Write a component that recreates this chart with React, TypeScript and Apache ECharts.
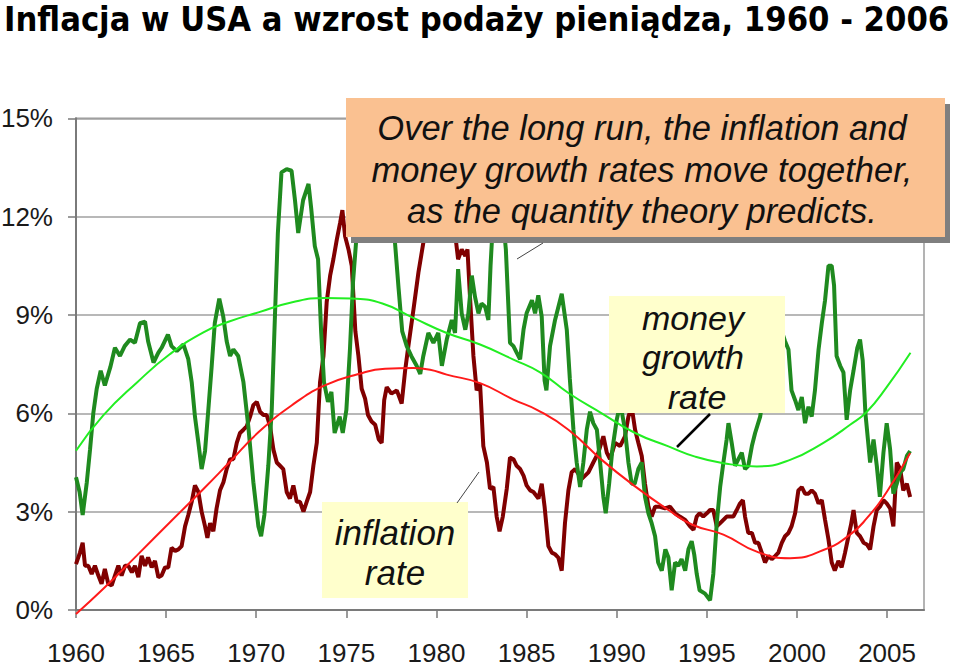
import React, { useEffect, useRef } from "react";
import * as echarts from "echarts";

const titleText = "Inflacja w USA a wzrost podaży pieniądza, 1960 - 2006";
const xTicks = [1960, 1965, 1970, 1975, 1980, 1985, 1990, 1995, 2000, 2005];

// money growth rate (% per year) [year, value]
const moneyGrowth: [number, number][] = [
  [1960.0, 4.05], [1960.2, 3.6], [1960.37, 2.9], [1960.6, 3.9], [1960.78, 4.9], [1960.96, 6.0],
  [1961.15, 6.75], [1961.37, 7.3], [1961.6, 6.85], [1961.9, 7.4], [1962.16, 8.0], [1962.44, 7.75],
  [1962.7, 8.05], [1963.0, 8.25], [1963.27, 8.15], [1963.55, 8.75], [1963.83, 8.8], [1964.0, 8.2],
  [1964.3, 7.55], [1964.57, 7.85], [1964.75, 8.0], [1965.1, 8.4], [1965.3, 8.05], [1965.59, 7.9],
  [1965.96, 8.1], [1966.23, 7.65], [1966.42, 6.95], [1966.6, 5.9], [1966.79, 5.1], [1966.97, 4.3],
  [1967.16, 4.85], [1967.34, 6.1], [1967.53, 7.45], [1967.7, 8.75], [1967.95, 9.5], [1968.17, 8.95],
  [1968.36, 8.2], [1968.55, 7.75], [1968.73, 7.95], [1969.0, 7.75], [1969.29, 6.95], [1969.56, 5.6],
  [1969.84, 3.9], [1970.12, 2.55], [1970.27, 2.25], [1970.45, 2.9], [1970.67, 4.4], [1970.86, 6.1],
  [1971.04, 9.0], [1971.2, 11.5], [1971.4, 13.35], [1971.69, 13.45], [1971.96, 13.4], [1972.15, 12.5],
  [1972.33, 11.5], [1972.6, 12.5], [1972.9, 13.0], [1973.05, 12.25], [1973.25, 11.1], [1973.43, 10.7],
  [1973.6, 8.5], [1973.76, 6.95], [1973.98, 6.35], [1974.17, 6.65], [1974.35, 5.4], [1974.63, 5.9],
  [1974.8, 5.4], [1975.0, 6.1], [1975.2, 7.95], [1975.37, 10.0], [1975.55, 11.3], [1975.8, 12.6],
  [1976.2, 13.5], [1976.6, 13.7], [1977.0, 13.0], [1977.4, 12.0], [1977.7, 11.2], [1977.9, 9.8],
  [1978.1, 8.5], [1978.35, 8.05], [1978.6, 7.75], [1978.9, 7.45], [1979.1, 7.2], [1979.27, 7.75],
  [1979.55, 8.45], [1979.83, 8.15], [1980.1, 8.45], [1980.3, 7.45], [1980.57, 8.25], [1980.85, 8.85],
  [1981.03, 8.45], [1981.2, 10.4], [1981.4, 9.05], [1981.6, 8.55], [1981.77, 9.05], [1981.96, 10.2],
  [1982.14, 9.55], [1982.33, 9.05], [1982.5, 9.35], [1982.7, 9.25], [1982.88, 8.85], [1983.0, 10.5],
  [1983.15, 12.0], [1983.4, 12.6], [1983.65, 12.2], [1983.85, 11.0], [1984.08, 8.15], [1984.27, 8.05],
  [1984.45, 7.85], [1984.64, 7.65], [1984.83, 8.55], [1985.0, 9.05], [1985.3, 9.45], [1985.47, 9.05],
  [1985.65, 9.6], [1985.84, 8.95], [1986.0, 7.0], [1986.1, 6.7], [1986.3, 8.05], [1986.58, 8.85],
  [1986.95, 9.65], [1987.23, 8.55], [1987.4, 7.05], [1987.6, 5.5], [1987.78, 4.5], [1987.97, 3.75],
  [1988.15, 4.5], [1988.34, 5.5], [1988.52, 6.05], [1988.7, 5.7], [1988.9, 5.5], [1989.08, 4.5],
  [1989.26, 3.45], [1989.39, 2.95], [1989.58, 3.85], [1989.76, 4.9], [1990.0, 5.8], [1990.2, 6.3],
  [1990.46, 5.5], [1990.65, 4.5], [1990.83, 3.85], [1991.0, 3.85], [1991.2, 4.3], [1991.39, 4.5],
  [1991.57, 3.45], [1991.76, 2.95], [1991.94, 2.65], [1992.13, 2.25], [1992.3, 1.45], [1992.5, 1.2],
  [1992.7, 1.85], [1992.87, 1.6], [1993.05, 0.6], [1993.24, 1.45], [1993.42, 1.35], [1993.6, 1.55],
  [1993.8, 1.2], [1993.98, 1.85], [1994.16, 2.1], [1994.3, 1.7], [1994.44, 1.1], [1994.6, 0.6],
  [1994.9, 0.5], [1995.18, 0.3], [1995.36, 1.1], [1995.55, 2.65], [1995.74, 3.75], [1995.92, 4.5],
  [1996.1, 5.2], [1996.2, 5.7], [1996.38, 5.1], [1996.57, 4.4], [1996.75, 4.6], [1996.94, 4.8],
  [1997.12, 4.3], [1997.3, 4.4], [1997.5, 5.0], [1997.68, 5.4], [1997.96, 5.9], [1998.2, 6.8],
  [1998.5, 7.6], [1998.8, 8.3], [1999.1, 8.6], [1999.34, 8.2], [1999.53, 7.95], [1999.7, 6.7],
  [1999.9, 6.4], [2000.08, 6.1], [2000.27, 6.5], [2000.45, 5.7], [2000.64, 6.2], [2000.82, 5.9],
  [2001.0, 6.7], [2001.2, 7.95], [2001.38, 8.75], [2001.56, 9.45], [2001.75, 10.5], [2001.93, 10.5],
  [2002.06, 9.9], [2002.2, 7.75], [2002.4, 7.45], [2002.58, 7.25], [2002.76, 5.8], [2002.95, 6.7],
  [2003.14, 7.3], [2003.35, 8.0], [2003.5, 8.25], [2003.65, 7.6], [2003.8, 6.0], [2004.06, 4.5],
  [2004.25, 5.2], [2004.43, 4.4], [2004.6, 3.45], [2004.8, 4.8], [2004.98, 5.7], [2005.17, 4.9],
  [2005.35, 3.55], [2005.54, 3.85], [2005.73, 4.2], [2005.9, 4.3], [2006.1, 4.7], [2006.28, 4.85],
];

// inflation rate (% per year) [year, value]
const inflation: [number, number][] = [
  [1960.0, 1.4], [1960.22, 1.75], [1960.37, 2.05], [1960.5, 1.35], [1960.68, 1.35], [1960.87, 1.1],
  [1961.05, 1.35], [1961.24, 1.05], [1961.42, 0.8], [1961.6, 1.25], [1961.79, 0.8], [1961.98, 0.75],
  [1962.16, 1.05], [1962.35, 1.35], [1962.53, 1.05], [1962.72, 1.35], [1962.9, 1.35], [1963.1, 1.15],
  [1963.27, 1.35], [1963.46, 1.0], [1963.64, 1.65], [1963.83, 1.35], [1964.0, 1.6], [1964.2, 1.3],
  [1964.38, 1.5], [1964.57, 1.0], [1964.75, 1.05], [1964.94, 1.3], [1965.12, 1.3], [1965.3, 1.9],
  [1965.5, 1.8], [1965.68, 1.85], [1965.86, 1.95], [1966.05, 2.55], [1966.23, 2.9], [1966.42, 3.3],
  [1966.6, 3.8], [1966.79, 3.6], [1966.97, 3.0], [1967.16, 2.55], [1967.29, 2.2], [1967.44, 2.65],
  [1967.62, 2.4], [1967.8, 3.1], [1967.99, 3.65], [1968.18, 3.9], [1968.36, 4.3], [1968.55, 4.6],
  [1968.73, 4.6], [1968.92, 5.1], [1969.1, 5.4], [1969.29, 5.5], [1969.47, 5.6], [1969.66, 5.9],
  [1969.84, 6.25], [1970.03, 6.35], [1970.21, 6.05], [1970.4, 5.95], [1970.58, 5.95], [1970.77, 5.6],
  [1970.95, 4.9], [1971.14, 4.5], [1971.32, 4.4], [1971.5, 4.3], [1971.69, 3.6], [1971.87, 3.4],
  [1972.06, 3.8], [1972.25, 3.3], [1972.43, 3.3], [1972.62, 3.0], [1972.8, 3.3], [1972.99, 3.6],
  [1973.17, 4.4], [1973.36, 5.1], [1973.54, 6.95], [1973.73, 7.75], [1973.91, 9.4], [1974.1, 10.2],
  [1974.28, 10.7], [1974.47, 11.3], [1974.65, 11.8], [1974.78, 12.2], [1974.93, 11.4], [1975.12, 11.0],
  [1975.3, 10.5], [1975.5, 8.5], [1975.67, 7.75], [1975.85, 6.75], [1976.04, 6.45], [1976.2, 5.95],
  [1976.4, 5.75], [1976.6, 5.65], [1976.8, 5.2], [1976.96, 5.1], [1977.1, 6.4], [1977.24, 6.8],
  [1977.5, 6.6], [1977.8, 6.7], [1978.07, 6.3], [1978.26, 7.3], [1978.44, 8.05], [1978.72, 9.15],
  [1979.0, 10.3], [1979.27, 11.2], [1979.5, 12.2], [1979.8, 13.3], [1980.1, 14.2], [1980.25, 14.6],
  [1980.5, 13.5], [1980.8, 12.6], [1981.03, 11.5], [1981.2, 10.7], [1981.4, 11.0], [1981.6, 10.8],
  [1981.72, 11.0], [1981.86, 9.55], [1982.05, 7.75], [1982.23, 6.7], [1982.42, 6.9], [1982.6, 5.0],
  [1982.8, 4.5], [1982.97, 3.7], [1983.16, 3.75], [1983.34, 2.85], [1983.5, 2.4], [1983.68, 2.85],
  [1983.9, 3.7], [1984.08, 4.65], [1984.27, 4.6], [1984.45, 4.4], [1984.64, 4.3], [1984.83, 4.1],
  [1985.0, 3.8], [1985.2, 3.65], [1985.38, 3.6], [1985.66, 3.4], [1985.84, 3.85], [1986.0, 3.15],
  [1986.21, 1.95], [1986.4, 1.75], [1986.58, 1.7], [1986.76, 1.6], [1986.95, 1.2], [1987.13, 2.65],
  [1987.32, 3.65], [1987.5, 4.2], [1987.7, 4.3], [1988.06, 4.0], [1988.43, 4.2], [1988.7, 4.5],
  [1988.98, 4.8], [1989.26, 5.3], [1989.45, 4.8], [1989.63, 4.6], [1989.91, 5.1], [1990.19, 5.0],
  [1990.46, 5.3], [1990.65, 5.9], [1990.83, 6.2], [1991.02, 5.5], [1991.2, 5.1], [1991.39, 4.7],
  [1991.57, 3.85], [1991.76, 3.15], [1991.94, 2.85], [1992.13, 3.15], [1992.4, 3.15], [1992.68, 3.1],
  [1992.96, 3.15], [1993.24, 2.95], [1993.5, 2.85], [1993.8, 2.75], [1994.07, 2.55], [1994.26, 2.45],
  [1994.44, 2.85], [1994.6, 2.95], [1994.8, 2.85], [1995.0, 2.95], [1995.18, 3.05], [1995.36, 3.05],
  [1995.55, 2.55], [1995.74, 2.65], [1995.92, 2.75], [1996.1, 2.85], [1996.29, 2.85], [1996.47, 2.85],
  [1996.66, 3.05], [1996.84, 3.25], [1997.0, 3.35], [1997.12, 2.85], [1997.3, 2.35], [1997.5, 2.35],
  [1997.68, 2.05], [1997.86, 2.05], [1998.05, 1.75], [1998.23, 1.45], [1998.42, 1.65], [1998.6, 1.55],
  [1998.8, 1.65], [1998.97, 1.75], [1999.16, 2.05], [1999.34, 2.25], [1999.53, 2.35], [1999.7, 2.55],
  [1999.9, 2.95], [2000.08, 3.65], [2000.27, 3.75], [2000.45, 3.55], [2000.64, 3.55], [2000.82, 3.65],
  [2001.0, 3.55], [2001.2, 3.25], [2001.38, 3.35], [2001.56, 2.75], [2001.75, 2.15], [2001.93, 1.45],
  [2002.1, 1.2], [2002.3, 1.5], [2002.48, 1.3], [2002.67, 1.75], [2002.86, 2.25], [2003.0, 2.6],
  [2003.14, 3.05], [2003.32, 2.35], [2003.5, 2.25], [2003.7, 2.05], [2003.88, 2.0], [2004.06, 1.85],
  [2004.25, 2.55], [2004.43, 3.05], [2004.6, 3.15], [2004.8, 3.35], [2004.98, 3.25], [2005.17, 3.1],
  [2005.35, 2.55], [2005.54, 4.5], [2005.73, 4.3], [2005.9, 3.65], [2006.1, 3.85], [2006.28, 3.45],
];

// long-run trend lines
const moneyTrend: [number, number][] = [
  [1960, 4.86], [1961.5, 5.93], [1963.4, 6.95], [1965.2, 7.8], [1967.07, 8.47], [1968.5, 8.8],
  [1970.12, 9.08], [1972, 9.39], [1973.8, 9.52], [1975.3, 9.5], [1977, 9.35], [1978.72, 8.91],
  [1980.57, 8.45], [1982.42, 8.1], [1984.27, 7.64], [1985.75, 7.25], [1987.32, 6.62], [1989.17, 6.0],
  [1991.02, 5.4], [1992.87, 4.99], [1994.35, 4.68], [1995.92, 4.48], [1997.77, 4.38], [1999.62, 4.58],
  [2001.47, 5.1], [2002.95, 5.65], [2003.88, 6.05], [2004.98, 6.8], [2006.3, 7.85],
];
const inflationTrend: [number, number][] = [
  [1960, -0.12], [1961.5, 0.64], [1963.37, 1.66], [1965.2, 2.67], [1967.07, 3.69], [1968.5, 4.5],
  [1970.12, 5.42], [1971.96, 6.24], [1973.8, 6.85], [1975.67, 7.2], [1977.15, 7.36], [1978.72, 7.38],
  [1979.65, 7.33], [1980.57, 7.18], [1982.42, 6.92], [1984.27, 6.42], [1985.6, 6.1], [1987.32, 5.5],
  [1989.17, 4.58], [1991.02, 3.77], [1992.87, 3.05], [1994.2, 2.6], [1995.92, 2.3], [1997.77, 1.78],
  [1999.62, 1.58], [2001.47, 1.83], [2002.95, 2.3], [2003.88, 2.8], [2004.98, 3.6], [2006.28, 4.79],
];

const FONT = '"Liberation Sans", Arial, sans-serif';

export default function App() {
  const ref = useRef<HTMLDivElement>(null);
  useEffect(() => {
    if (!ref.current) return;
    const chart = echarts.init(ref.current, undefined, { renderer: "svg" });
    const noteText = (text: string, x: number, y: number, size: number) => ({
      type: "text",
      x,
      y,
      z: 102,
      style: {
        text,
        fill: "#111",
        fontSize: size,
        fontStyle: "italic",
        fontFamily: FONT,
        align: "center",
        verticalAlign: "middle",
      },
    });
    chart.setOption({
      animation: false,
      backgroundColor: "#ffffff",
      title: {
        text: titleText,
        left: 4,
        top: 2,
        padding: 0,
        textStyle: {
          fontSize: 34.2,
          fontWeight: "bold",
          fontFamily: '"DejaVu Sans Condensed", "DejaVu Sans", sans-serif',
          color: "#000",
        },
      },
      grid: {
        left: 76,
        right: 36,
        top: 118.3,
        bottom: 57,
        show: true,
        borderColor: "#9a9a9a",
        borderWidth: 1.5,
        outerBoundsMode: "none",
      },
      xAxis: {
        type: "value",
        min: 1960,
        max: 2007.05,
        interval: 5,
        axisLine: { show: true, onZero: false, lineStyle: { color: "#7a7a7a", width: 2 } },
        axisTick: { show: true, length: 8, customValues: xTicks, lineStyle: { color: "#7a7a7a", width: 1.5 } },
        axisLabel: {
          customValues: xTicks,
          margin: 30,
          fontSize: 26,
          fontFamily: FONT,
          color: "#1a1a1a",
          formatter: (v: number) => (Math.abs(v % 5) < 1e-6 ? String(v) : ""),
        },
        splitLine: { show: false },
      },
      yAxis: {
        type: "value",
        min: 0,
        max: 15,
        interval: 3,
        axisLine: { show: true, lineStyle: { color: "#7a7a7a", width: 2 } },
        axisTick: { show: true, length: 8, lineStyle: { color: "#7a7a7a", width: 1.5 } },
        axisLabel: {
          margin: 23,
          fontSize: 26,
          fontFamily: FONT,
          color: "#1a1a1a",
          formatter: "{value}%",
        },
        splitLine: { show: true, lineStyle: { color: "#a0a0a0", width: 1.5 } },
      },
      series: [
        {
          type: "line",
          name: "inflation rate",
          data: inflation,
          showSymbol: false,
          lineStyle: { color: "#800000", width: 4 },
          z: 2,
        },
        {
          type: "line",
          name: "money growth rate",
          data: moneyGrowth,
          showSymbol: false,
          lineStyle: { color: "#1f8a1f", width: 4 },
          z: 3,
        },
        {
          type: "line",
          name: "inflation trend",
          data: inflationTrend,
          smooth: true,
          clip: false,
          showSymbol: false,
          lineStyle: { color: "#ff1a1a", width: 2 },
          z: 4,
        },
        {
          type: "line",
          name: "money trend",
          data: moneyTrend,
          smooth: true,
          showSymbol: false,
          lineStyle: { color: "#22ee22", width: 2 },
          z: 5,
        },
      ],
      graphic: [
        { type: "rect", z: 99, shape: { x: 351, y: 104, width: 599, height: 139 }, style: { fill: "#7f7f7f" } },
        { type: "rect", z: 100, shape: { x: 346, y: 98, width: 599, height: 139 }, style: { fill: "#fac191" } },
        noteText("Over the long run, the inflation and", 642, 128, 34.5),
        noteText("money growth rates move together,", 642, 170, 34.5),
        noteText("as the quantity theory predicts.", 642, 211, 34.5),
        { type: "line", z: 100, shape: { x1: 517, y1: 259, x2: 543, y2: 243 }, style: { stroke: "#444", lineWidth: 1 } },
        { type: "rect", z: 100, shape: { x: 322, y: 502, width: 146, height: 96 }, style: { fill: "#ffffcc" } },
        noteText("inflation", 395, 532, 35),
        noteText("rate", 395, 572, 35),
        { type: "line", z: 100, shape: { x1: 457, y1: 503, x2: 479, y2: 472 }, style: { stroke: "#444", lineWidth: 1 } },
        { type: "rect", z: 100, shape: { x: 609, y: 296, width: 176, height: 117 }, style: { fill: "#ffffcc" } },
        noteText("money", 693, 318, 34),
        noteText("growth", 693, 357, 34),
        noteText("rate", 697, 397, 34),
        { type: "line", z: 100, shape: { x1: 677, y1: 447, x2: 710, y2: 414 }, style: { stroke: "#000", lineWidth: 2.5 } },
      ],
    });
    return () => chart.dispose();
  }, []);
  return (
    <div
      ref={ref}
      style={{ position: "fixed", left: 0, top: 0, width: 960, height: 667, background: "#fff" }}
    />
  );
}
